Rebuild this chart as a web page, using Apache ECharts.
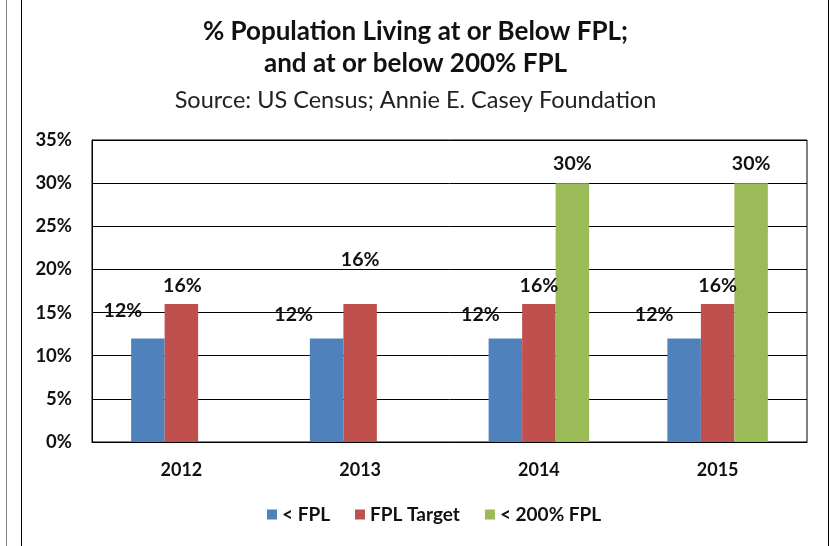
<!DOCTYPE html>
<html>
<head>
<meta charset="utf-8">
<script src="https://cdn.jsdelivr.net/npm/echarts@6/dist/echarts.min.js"></script>
<style>
	html, body { margin: 0; padding: 0; background: #fff; }
	#chart { width: 831px; height: 546px; }
</style>
</head>
<body>
<div id="chart"></div>
<script>
// data
var years = [ '2012', '2013', '2014', '2015' ];
var belowFpl = [ 12, 12, 12, 12 ];
var fplTarget = [ 16, 16, 16, 16 ];
var below200 = [ null, null, 30, 30 ];
var seriesNames = [ '< FPL', 'FPL Target', '< 200% FPL' ];
var yTicks = [ 0, 5, 10, 15, 20, 25, 30, 35 ];

var colors = [ '#4F81BD', '#C0504D', '#9BBB59' ];
var fontName = 'Lato, Carlito, "Liberation Sans", sans-serif';

// label nudges (labels were hand-moved in the original)
var labelNudge = [
	[ [ -25, -14 ], [ -33, -10 ], [ -25, -10 ], [ -30, -10 ] ],
	[ [ 1, -4 ], [ 0, -30 ], [ 0, -4 ], [ 0, -4 ] ],
	[ [ 0, 0 ], [ 0, 0 ], [ 0, -5 ], [ 0, -5 ] ]
];

function buildData(values, s) {
	var out = [];
	for (var i = 0; i < values.length; i++) {
		out.push({
			value : values[i],
			label : {
				offset : labelNudge[s][i]
			}
		});
	}
	return out;
}

var allValues = [ belowFpl, fplTarget, below200 ];
var series = [];
for (var s = 0; s < allValues.length; s++) {
	series.push({
		name : seriesNames[s],
		type : 'bar',
		barWidth : 33.5,
		barGap : '0%',
		itemStyle : {
			color : colors[s]
		},
		label : {
			show : true,
			position : 'top',
			distance : 4,
			formatter : '{c}%',
			color : '#111',
			fontFamily : fontName,
			fontWeight : 'bold',
			fontSize : 19.5
		},
		data : buildData(allValues[s], s)
	});
}

var myChart = echarts.init(document.getElementById('chart'));
myChart.setOption({
	animation : false,
	backgroundColor : '#fff',
	title : [ {
		text : '% Population Living at or Below FPL;\nand at or below 200% FPL',
		left : 'center',
		top : 11,
		textStyle : {
			fontFamily : fontName,
			fontWeight : 'bold',
			fontSize : 26,
			lineHeight : 32,
			color : '#111'
		}
	}, {
		text : 'Source: US Census; Annie E. Casey Foundation',
		left : 'center',
		top : 83,
		textStyle : {
			fontFamily : fontName,
			fontWeight : 'normal',
			fontSize : 23.5,
			color : '#222'
		}
	} ],
	legend : {
		bottom : 17,
		left : 262,
		icon : 'rect',
		itemWidth : 10,
		itemHeight : 10,
		itemGap : 25,
		textStyle : {
			fontFamily : fontName,
			fontWeight : 'bold',
			fontSize : 19,
			color : '#111'
		},
		data : seriesNames
	},
	grid : {
		left : 92,
		right : 24,
		top : 140,
		bottom : 104,
		show : true,
		borderColor : '#000',
		borderWidth : 1
	},
	xAxis : {
		type : 'category',
		data : years,
		axisLine : {
			lineStyle : {
				color : '#000'
			}
		},
		axisTick : {
			show : false
		},
		axisLabel : {
			margin : 19,
			fontFamily : fontName,
			fontWeight : 'bold',
			fontSize : 18,
			color : '#111'
		}
	},
	yAxis : {
		type : 'value',
		min : yTicks[0],
		max : yTicks[yTicks.length - 1],
		interval : yTicks[1] - yTicks[0],
		axisLine : {
			show : true,
			lineStyle : {
				color : '#000'
			}
		},
		axisTick : {
			show : false
		},
		splitLine : {
			lineStyle : {
				color : '#000'
			}
		},
		axisLabel : {
			margin : 20,
			formatter : '{value}%',
			fontFamily : fontName,
			fontWeight : 'bold',
			fontSize : 18.5,
			color : '#111'
		}
	},
	graphic : [ {
		type : 'line',
		shape : { x1 : 6.5, y1 : 0, x2 : 6.5, y2 : 546 },
		style : { stroke : '#888', lineWidth : 1 }
	}, {
		type : 'line',
		shape : { x1 : 21.5, y1 : 0, x2 : 21.5, y2 : 546 },
		style : { stroke : '#000', lineWidth : 1 }
	}, {
		type : 'line',
		shape : { x1 : 828.5, y1 : 0, x2 : 828.5, y2 : 546 },
		style : { stroke : '#000', lineWidth : 1 }
	} ],
	series : series
});
</script>
</body>
</html>
